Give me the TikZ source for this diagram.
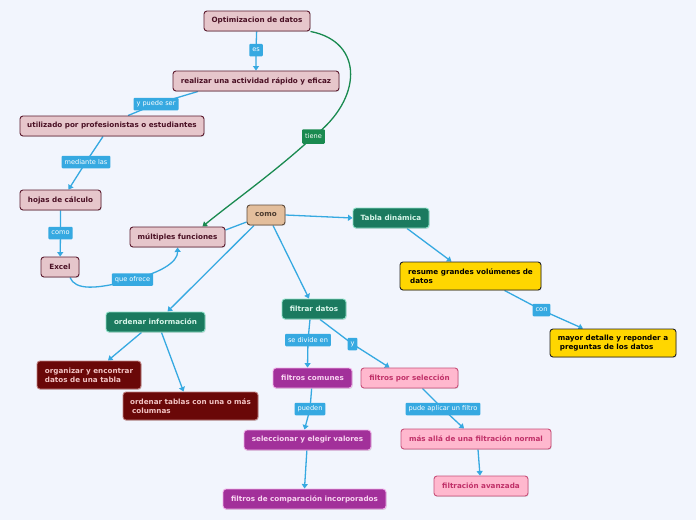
\documentclass[tikz,border=0pt]{standalone}
\usepackage{fontspec}
\setmainfont{DejaVu Sans}
\usetikzlibrary{shadows,arrows.meta}
\definecolor{bgc}{HTML}{F2F5FD}
\definecolor{pinkF}{HTML}{E6C6CB}
\definecolor{pinkD}{HTML}{5B1A2E}
\definecolor{pinkT}{HTML}{4A1024}
\definecolor{tanF}{HTML}{E3BE9C}
\definecolor{tanD}{HTML}{5E4A3A}
\definecolor{tanT}{HTML}{4A3A2E}
\definecolor{grnF}{HTML}{1B7A5F}
\definecolor{grnD}{HTML}{8EE0C8}
\definecolor{grnT}{HTML}{D8F5EA}
\definecolor{yelF}{HTML}{FFD600}
\definecolor{yelD}{HTML}{222222}
\definecolor{redF}{HTML}{6A0808}
\definecolor{redD}{HTML}{C08080}
\definecolor{redT}{HTML}{F2C4C4}
\definecolor{purF}{HTML}{A2309A}
\definecolor{purD}{HTML}{F0B0E8}
\definecolor{purT}{HTML}{F8D4F0}
\definecolor{lpkF}{HTML}{FFB8CE}
\definecolor{lpkD}{HTML}{C8507A}
\definecolor{lpkT}{HTML}{C03068}
\definecolor{labB}{HTML}{36A9E1}
\definecolor{tieneG}{HTML}{1A8A50}
\pgfdeclarelayer{bglayer}
\pgfdeclarelayer{connlayer}
\pgfsetlayers{bglayer,connlayer,main}
\tikzset{
  box/.style={rounded corners=3pt, draw, line width=0.9pt, inner sep=0pt,
    minimum height=20pt, font=\fontsize{7.2}{9}\selectfont\bfseries,
    drop shadow={shadow xshift=0.7pt,shadow yshift=-0.9pt,opacity=0.25}},
  pinkbox/.style={box, fill=pinkF, draw=pinkD, text=pinkT},
  tanbox/.style={box, fill=tanF, draw=tanD, text=tanT},
  grnbox/.style={box, fill=grnF, draw=grnD, text=grnT},
  yelbox/.style={box, fill=yelF, draw=yelD, text=black, minimum height=28pt, align=left},
  redbox/.style={box, fill=redF, draw=redD, text=redT, minimum height=28pt, align=left},
  purbox/.style={box, fill=purF, draw=purD, text=purT},
  lpkbox/.style={box, fill=lpkF, draw=lpkD, text=lpkT},
  lab/.style={fill=labB, text=white, font=\fontsize{6.6}{7.5}\selectfont, inner sep=0pt,
    inner xsep=3pt, minimum height=12.5pt, rounded corners=1pt},
  glab/.style={lab, fill=tieneG, minimum height=14.5pt},
  conn/.style={draw=labB, line width=1.3pt},
  arr/.style={conn, -{Triangle[length=4.5pt,width=6pt]}},
  garr/.style={draw=tieneG, line width=1.3pt, -{Triangle[length=4.5pt,width=6pt]}}
}
\begin{document}
\begin{tikzpicture}[x=1pt,y=-1pt]
\begin{pgfonlayer}{bglayer}
\fill[bgc] (0,0) rectangle (696,520);
\end{pgfonlayer}
\useasboundingbox (0,0) rectangle (696,520);
% nodes
\node[pinkbox, minimum width=106pt] (opt) at (257,21) {Optimizacion de datos};
\node[pinkbox, minimum width=166pt] (real) at (256,81) {realizar una actividad rápido y eficaz};
\node[pinkbox, minimum width=184pt] (util) at (112,126) {utilizado por profesionistas o estudiantes};
\node[pinkbox, minimum width=81pt] (hojas) at (60.5,200) {hojas de cálculo};
\node[pinkbox, minimum width=38pt] (excel) at (60,267) {Excel};
\node[pinkbox, minimum width=95pt] (mult) at (177.5,237) {múltiples funciones};
\node[tanbox, minimum width=38pt] (como) at (266,215) {como};
\node[grnbox, minimum width=76pt] (tabla) at (391,218) {Tabla dinámica};
\node[yelbox, minimum width=141pt] (resume) at (470.5,276) {resume grandes volúmenes de\\\hspace{2pt}datos};
\node[yelbox, minimum width=126pt] (mayor) at (613,343) {mayor detalle y reponder a\\\hspace{2pt}preguntas de los datos};
\node[grnbox, minimum width=99pt] (ordinf) at (155.5,322) {ordenar información};
\node[grnbox, minimum width=64pt] (filtrar) at (314,309) {filtrar datos};
\node[redbox, minimum width=104pt] (organ) at (89,375) {organizar y encontrar\\datos de una tabla};
\node[redbox, minimum width=135pt] (ordtab) at (190.5,406) {ordenar tablas con una o más\\\hspace{2pt}columnas};
\node[purbox, minimum width=79pt] (fcom) at (312.5,378) {filtros comunes};
\node[lpkbox, minimum width=97pt] (fsel) at (409.5,378) {filtros por selección};
\node[purbox, minimum width=127pt] (selec) at (307.5,440) {seleccionar y elegir valores};
\node[lpkbox, minimum width=150pt] (masalla) at (476,439) {más allá de una filtración normal};
\node[purbox, minimum width=163pt] (fcomp) at (304.5,499) {filtros de comparación incorporados};
\node[lpkbox, minimum width=94pt] (favz) at (481,486) {filtración avanzada};
% labels
\node[lab] (es) at (256,50) {es};
\node[lab] (ypuede) at (156,104) {y puede ser};
\node[lab] (mediante) at (86,162) {mediante las};
\node[lab] (comolab) at (60.5,233) {como};
\node[lab] (que) at (132.5,279.5) {que ofrece};
\node[glab] (tiene) at (313.5,136.5) {tiene};
\node[lab] (con) at (541.5,310) {con};
\node[lab] (sediv) at (308,340) {se divide en};
\node[lab] (ylab) at (352.5,344) {y};
\node[lab] (pueden) at (310,409) {pueden};
\node[lab] (pude) at (443,409) {pude aplicar un filtro};
% connectors
\begin{pgfonlayer}{connlayer}
\draw[arr] (opt) -- (es.center) -- (real);
\draw[conn] ([xshift=-58pt]real.south) -- (ypuede.center) -- ([xshift=16pt]util.north);
\draw[arr] ([xshift=-9pt]util.south) -- (mediante.center) -- ([xshift=8pt]hojas.north);
\draw[arr] (hojas) -- (comolab.center) -- (excel);
\draw[arr] ([xshift=10pt]excel.south) .. controls (75,290) and (95,290) .. (que.center)
  .. controls (160,273) and (178,262) .. (mult.south);
\draw[conn] ([yshift=-7pt]como.west) -- ([yshift=7pt]mult.east);
\draw[garr] (opt.south east) .. controls (365,42) and (362,100) .. (tiene.center)
  .. controls (275,172) and (235,200) .. ([xshift=25pt]mult.north);
\draw[arr] (como.east) -- (tabla.west);
\draw[arr] ([xshift=-12pt]como.south) -- ([xshift=12pt]ordinf.north);
\draw[arr] ([xshift=7pt]como.south) -- ([xshift=-5pt]filtrar.north);
\draw[arr] ([xshift=16pt]tabla.south) -- ([xshift=-19pt]resume.north);
\draw[arr] ([xshift=34pt]resume.south) -- (con.center) -- ([xshift=-30pt]mayor.north);
\draw[arr] ([xshift=-14pt]ordinf.south) -- ([xshift=19pt]organ.north);
\draw[arr] ([xshift=6pt]ordinf.south) -- ([xshift=-7pt]ordtab.north);
\draw[arr] ([xshift=-4pt]filtrar.south) -- (sediv.center) -- ([xshift=-5pt]fcom.north);
\draw[arr] ([xshift=6pt]filtrar.south) -- (ylab.center) -- ([xshift=-20pt]fsel.north);
\draw[arr] (fcom) -- (pueden.center) -- ([xshift=-3pt]selec.north);
\draw[arr] (selec) -- (fcomp.north);
\draw[arr] ([xshift=13pt]fsel.south) -- (pude.center) -- ([xshift=-12pt]masalla.north);
\draw[arr] ([xshift=2pt]masalla.south) -- ([xshift=-1pt]favz.north);
\end{pgfonlayer}
\end{tikzpicture}
\end{document}
